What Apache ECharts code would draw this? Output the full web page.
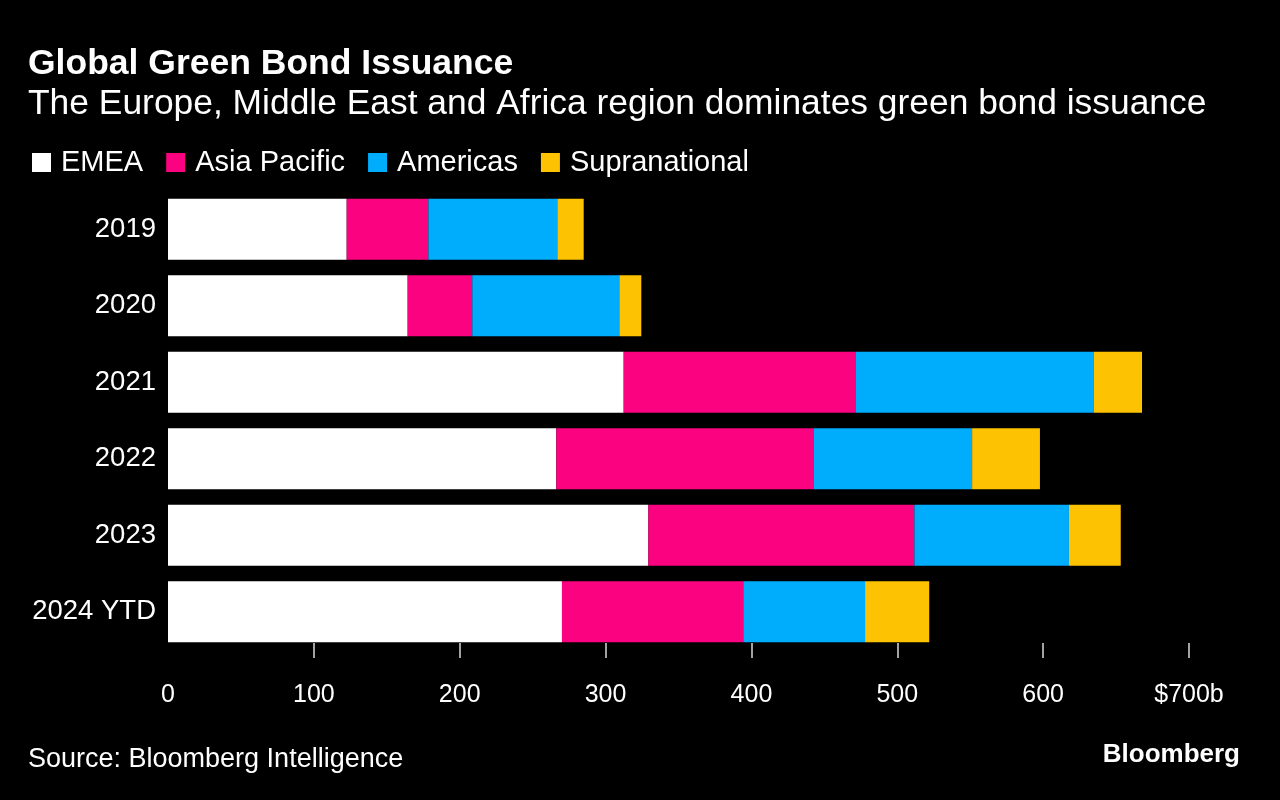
<!DOCTYPE html>
<html>
<head>
<meta charset="utf-8">
<script src="https://cdn.jsdelivr.net/npm/echarts@6/dist/echarts.min.js"></script>
<style>
html,body{margin:0;padding:0;background:#000;}
#c{width:1280px;height:800px;}
</style>
</head>
<body>
<div id="c"></div>
<script>
const categories = ['2019', '2020', '2021', '2022', '2023', '2024 YTD'];
const seriesNames = ['EMEA', 'Asia Pacific', 'Americas', 'Supranational'];
const emea = [122.5, 164.3, 312.4, 266.2, 329.3, 270.1];
const asiaPacific = [56.0, 44.3, 158.9, 176.3, 182.4, 124.3];
const americas = [88.4, 100.8, 163.5, 108.8, 106.0, 83.5];
const supranational = [18.1, 15.1, 33.0, 46.5, 35.5, 44.0];
const tickValues = [100, 200, 300, 400, 500, 600, 700];
const labelValues = [0, 100, 200, 300, 400, 500, 600, 700];

const colors = ['#ffffff', '#fb0280', '#00adfd', '#fdc201'];
const FONT = 'Liberation Sans';
const values = [emea, asiaPacific, americas, supranational];

const chart = echarts.init(document.getElementById('c'));
chart.setOption({
  backgroundColor: '#000000',
  animation: false,
  title: [
    { text: 'Global Green Bond Issuance', left: 28, top: 46, padding: 0,
      textStyle: { color: '#fff', fontFamily: FONT, fontWeight: 'bold', fontSize: 35.5 } },
    { text: 'The Europe, Middle East and Africa region dominates green bond issuance', left: 28, top: 87, padding: 0,
      textStyle: { color: '#fff', fontFamily: FONT, fontWeight: 'normal', fontSize: 35.4 } },
    { text: 'Source: Bloomberg Intelligence', left: 28, top: 746, padding: 0,
      textStyle: { color: '#fff', fontFamily: FONT, fontWeight: 'normal', fontSize: 27 } },
    { text: 'Bloomberg', right: 40, top: 742, padding: 0,
      textStyle: { color: '#fff', fontFamily: FONT, fontWeight: 'bold', fontSize: 26 } }
  ],
  legend: {
    data: seriesNames,
    left: 32, top: 148,
    padding: 0,
    icon: 'rect',
    itemWidth: 19, itemHeight: 19,
    itemGap: 23,
    textStyle: { color: '#fff', fontFamily: FONT, fontSize: 29, padding: [0, 0, 0, 5] }
  },
  grid: { left: 168, right: 91, top: 191, bottom: 150, containLabel: false },
  xAxis: {
    type: 'value',
    min: 0, max: 700, interval: 100,
    offset: -7,
    axisLine: { show: false },
    axisTick: { show: true, length: 15, customValues: tickValues, lineStyle: { color: '#d8d8d8', width: 1.5 } },
    splitLine: { show: false },
    axisLabel: {
      customValues: labelValues,
      color: '#fff', fontFamily: FONT, fontSize: 25, margin: 40,
      formatter: v => v === 700 ? '$700b' : String(v)
    }
  },
  yAxis: {
    type: 'category',
    data: categories,
    inverse: true,
    axisLine: { show: false },
    axisTick: { show: false },
    axisLabel: { color: '#fff', fontFamily: FONT, fontSize: 27.5, margin: 12 }
  },
  series: seriesNames.map((name, i) => ({
    name: name,
    type: 'bar',
    stack: 'total',
    barCategoryGap: '20%',
    data: values[i],
    itemStyle: { color: colors[i] }
  }))
});
</script>
</body>
</html>
